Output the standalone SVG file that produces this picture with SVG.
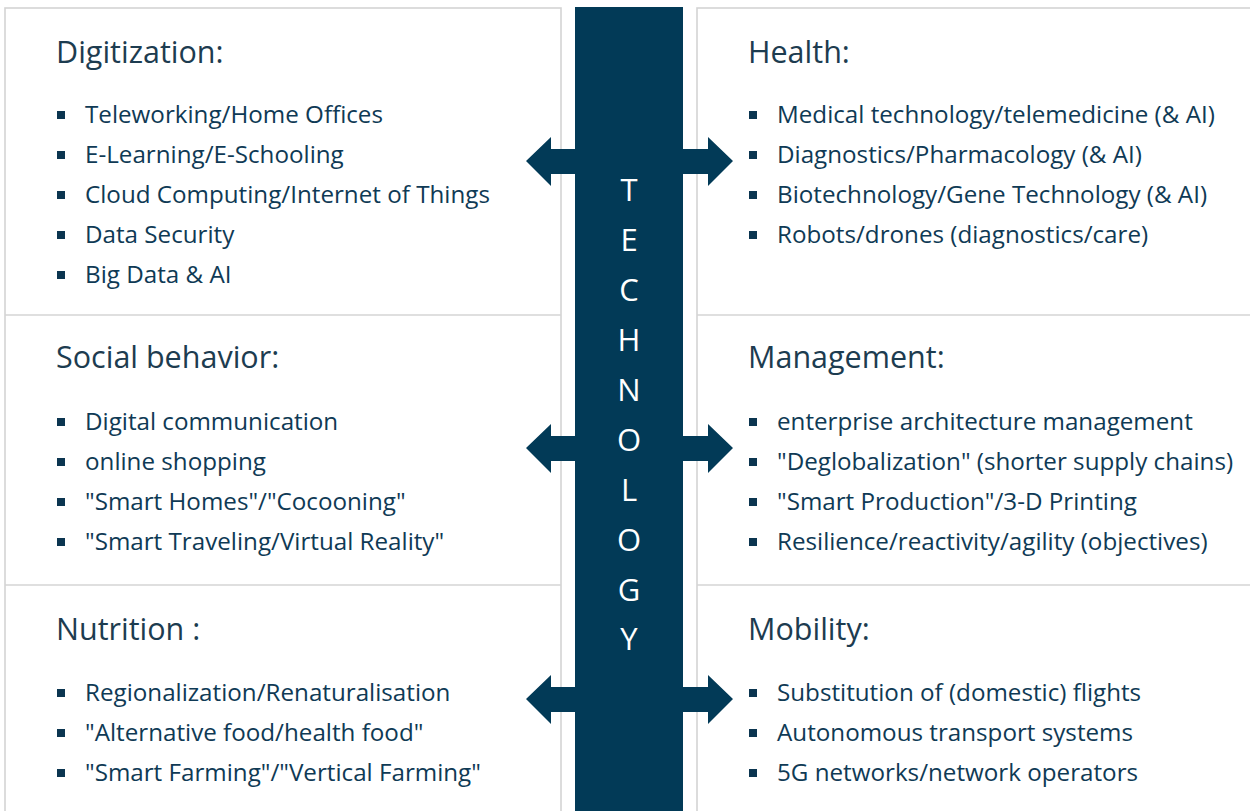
<svg xmlns="http://www.w3.org/2000/svg" width="1250" height="811" viewBox="0 0 1250 811">
  <style>
    .panel { fill: #ffffff; stroke: #d4d4d4; stroke-width: 1.6; }
    .rule { stroke: #d4d4d4; stroke-width: 1.6; }
    .head { font-family: "Open Sans", "Noto Sans", sans-serif; font-size: 30.5px; fill: #1d3c50; }
    .item { font-family: "Open Sans", "Noto Sans", sans-serif; font-size: 24.2px; fill: #0f3a55; }
    .dot { fill: #0b3550; }
    .bar { fill: #023a57; }
    .arrow { fill: #023a57; }
    .vt { font-family: "Open Sans", "Noto Sans", sans-serif; font-size: 31px; font-weight: 500; fill: #ffffff; text-anchor: middle; }
  </style>
  <defs>
    <rect id="b" class="dot" x="0" y="-4" width="8" height="8"/>
  </defs>
  <rect width="1250" height="811" fill="#ffffff"/>

  <!-- panel frames -->
  <rect class="panel" x="5" y="8" width="556" height="820"/>
  <rect class="panel" x="697" y="8" width="570" height="820"/>
  <line class="rule" x1="5" y1="315" x2="561" y2="315"/>
  <line class="rule" x1="5" y1="585" x2="561" y2="585"/>
  <line class="rule" x1="697" y1="315" x2="1250" y2="315"/>
  <line class="rule" x1="697" y1="585" x2="1250" y2="585"/>

  <!-- double arrows linking the bar with each row (drawn under the bar lettering) -->
  <g id="connectors">
    <polygon class="arrow" points="526,161 551,137 551,149 708,149 708,137 733,161 708,186 708,174 551,174 551,186"/>
    <polygon class="arrow" points="526,448 551,424 551,436 708,436 708,424 733,448 708,473 708,461 551,461 551,473"/>
    <polygon class="arrow" points="526,699 551,675 551,687 708,687 708,675 733,699 708,724 708,712 551,712 551,724"/>
  </g>

  <!-- central technology bar -->
  <g id="technology">
    <rect class="bar" x="575" y="7" width="108" height="810"/>
    <text class="vt" x="629" y="201">T</text>
    <text class="vt" x="629" y="251">E</text>
    <text class="vt" x="629" y="301">C</text>
    <text class="vt" x="629" y="351">H</text>
    <text class="vt" x="629" y="401">N</text>
    <text class="vt" x="629" y="451">O</text>
    <text class="vt" x="629" y="501">L</text>
    <text class="vt" x="629" y="551">O</text>
    <text class="vt" x="629" y="601">G</text>
    <text class="vt" x="629" y="650">Y</text>
  </g>

  <g id="digitization">
    <text class="head" x="56" y="63">Digitization:</text>
    <use href="#b" x="57" y="115"/><text class="item" x="85" y="123">Teleworking/Home Offices</text>
    <use href="#b" x="57" y="155"/><text class="item" x="85" y="163">E-Learning/E-Schooling</text>
    <use href="#b" x="57" y="195"/><text class="item" x="85" y="203">Cloud Computing/Internet of Things</text>
    <use href="#b" x="57" y="235"/><text class="item" x="85" y="243">Data Security</text>
    <use href="#b" x="57" y="275"/><text class="item" x="85" y="283">Big Data &amp; AI</text>
  </g>

  <g id="social-behavior">
    <text class="head" x="56" y="368">Social behavior:</text>
    <use href="#b" x="57" y="422"/><text class="item" x="85" y="430">Digital communication</text>
    <use href="#b" x="57" y="462"/><text class="item" x="85" y="470">online shopping</text>
    <use href="#b" x="57" y="502"/><text class="item" x="85" y="510">"Smart Homes"/"Cocooning"</text>
    <use href="#b" x="57" y="542"/><text class="item" x="85" y="550">"Smart Traveling/Virtual Reality"</text>
  </g>

  <g id="nutrition">
    <text class="head" x="56" y="640">Nutrition :</text>
    <use href="#b" x="57" y="693"/><text class="item" x="85" y="701">Regionalization/Renaturalisation</text>
    <use href="#b" x="57" y="733"/><text class="item" x="85" y="741">"Alternative food/health food"</text>
    <use href="#b" x="57" y="773"/><text class="item" x="85" y="781">"Smart Farming"/"Vertical Farming"</text>
  </g>

  <g id="health">
    <text class="head" x="748" y="63">Health:</text>
    <use href="#b" x="749" y="115"/><text class="item" x="777" y="123">Medical technology/telemedicine (&amp; AI)</text>
    <use href="#b" x="749" y="155"/><text class="item" x="777" y="163">Diagnostics/Pharmacology (&amp; AI)</text>
    <use href="#b" x="749" y="195"/><text class="item" x="777" y="203">Biotechnology/Gene Technology (&amp; AI)</text>
    <use href="#b" x="749" y="235"/><text class="item" x="777" y="243">Robots/drones (diagnostics/care)</text>
  </g>

  <g id="management">
    <text class="head" x="748" y="368">Management:</text>
    <use href="#b" x="749" y="422"/><text class="item" x="777" y="430">enterprise architecture management</text>
    <use href="#b" x="749" y="462"/><text class="item" x="777" y="470">"Deglobalization" (shorter supply chains)</text>
    <use href="#b" x="749" y="502"/><text class="item" x="777" y="510">"Smart Production"/3-D Printing</text>
    <use href="#b" x="749" y="542"/><text class="item" x="777" y="550">Resilience/reactivity/agility (objectives)</text>
  </g>

  <g id="mobility">
    <text class="head" x="748" y="640">Mobility:</text>
    <use href="#b" x="749" y="693"/><text class="item" x="777" y="701">Substitution of (domestic) flights</text>
    <use href="#b" x="749" y="733"/><text class="item" x="777" y="741">Autonomous transport systems</text>
    <use href="#b" x="749" y="773"/><text class="item" x="777" y="781">5G networks/network operators</text>
  </g>
</svg>
